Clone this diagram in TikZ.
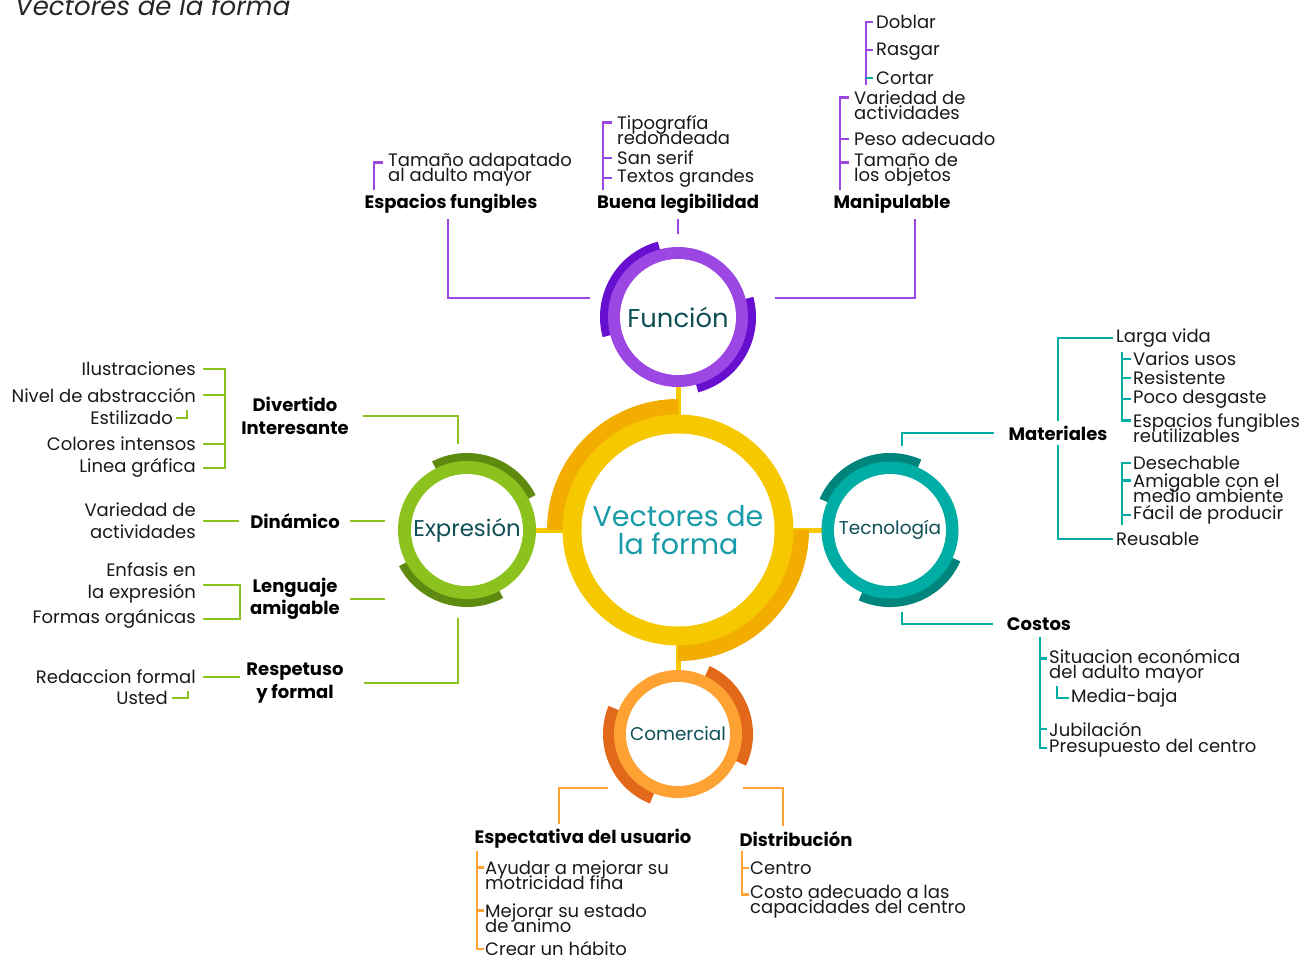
\documentclass[tikz,border=0pt]{standalone}
\usepackage{fontspec}
\setmainfont{Poppins}
\usetikzlibrary{positioning, calc}

\definecolor{hubR}{HTML}{F6C800}
\definecolor{hubD}{HTML}{F2AD00}
\definecolor{funR}{HTML}{9C46E4}
\definecolor{funD}{HTML}{6810CF}
\definecolor{expR}{HTML}{8CC21E}
\definecolor{expD}{HTML}{5F8A10}
\definecolor{tecR}{HTML}{00ADA5}
\definecolor{tecD}{HTML}{00857C}
\definecolor{comR}{HTML}{FFA234}
\definecolor{comD}{HTML}{E3691A}
\definecolor{hubtxt}{HTML}{1A9BA8}
\definecolor{ringtxt}{HTML}{0E4F55}

\newcommand{\leaffont}{\fontsize{18}{15}\selectfont\lineskiplimit=-30pt\relax}
\newcommand{\wideleaffont}{\fontsize{18}{22}\selectfont\lineskiplimit=-30pt\relax}

\begin{document}
\begin{tikzpicture}[
  x=1pt, y=1pt,
  line join=miter,
  leaf/.style={anchor=west, inner sep=0pt, font=\leaffont, align=left, text=black!90},
  leafr/.style={leaf, anchor=east, align=right, font=\wideleaffont},
  branch/.style={inner sep=0pt, font=\fontsize{18}{22.5}\selectfont\bfseries, align=center},
  ringlabel/.style={inner sep=0pt, text=ringtxt},
  spoke/.style={draw=hubR, line width=5pt},
  funline/.style={draw=funR, line width=2.6pt},
  expline/.style={draw=expR, line width=2.6pt},
  tecline/.style={draw=tecR, line width=2.6pt},
  comline/.style={draw=comR, line width=2.6pt}
]
\useasboundingbox (0,0) rectangle (1303,-956);

\node[anchor=base west, inner sep=0pt, font=\fontsize{26}{26}\selectfont\itshape, text=black!85] (title) at (15,-15) {Vectores de la forma};

% ================= HUB AND RINGS =================
\coordinate (hubC) at (678,-530);
\coordinate (funC) at (678,-317);
\coordinate (expC) at (467,-530);
\coordinate (tecC) at (890,-530);
\coordinate (comC) at (678,-734);

\draw[spoke] (funC) -- (comC);
\draw[spoke] (expC) -- (tecC);

\foreach \c/\ri/\ro/\rd/\a/\b/\col in {
  hubC/96.5/115.5/131/90/-90/hub,
  funC/58/70/78/105/-75/fun,
  expC/56/69/77/27/208/exp,
  tecC/56/68.5/77/66/-114/tec,
  comC/52/64/75/-25/158/com}
{
  \fill[fill=\col D] (\c) -- ++(\a:\rd) arc[start angle=\a, delta angle=90, radius=\rd] -- cycle;
  \fill[fill=\col D] (\c) -- ++(\b:\rd) arc[start angle=\b, delta angle=90, radius=\rd] -- cycle;
  \fill[fill=\col R] (\c) circle[radius=\ro];
  \fill[white] (\c) circle[radius=\ri];
}

\node[ringlabel, font=\fontsize{28.5}{28}\selectfont, text=hubtxt, align=center] (hub) at (hubC) {Vectores de\\la forma};
\node[ringlabel, font=\fontsize{25.8}{25}\selectfont] (fun) at (funC) {Función};
\node[ringlabel, font=\fontsize{22.8}{22}\selectfont] (expr) at (expC) {Expresión};
\node[ringlabel, font=\fontsize{18.5}{18}\selectfont] (tecn) at (tecC) {Tecnología};
\node[ringlabel, font=\fontsize{18.4}{18}\selectfont] (come) at (comC) {Comercial};

% ================= FUNCION =================
\node[branch] (espf) at (451,-204) {Espacios fungibles};
\node[branch] (legib) at (678,-204) {Buena legibilidad};
\node[branch] (manip) at (892,-204) {Manipulable};
\coordinate (funL) at (590,-298);
\coordinate (funT) at (678,-234);
\coordinate (funR) at (775,-298);
\draw[funline] (funL) -| ([xshift=-3pt,yshift=-5pt]espf.south);
\draw[funline] ([yshift=-5pt]legib.south) -- (funT);
\draw[funline] (funR) -| ([xshift=23pt,yshift=-5pt]manip.south);

% ===== Espacios fungibles =====
\node[leaf] (tamad) at (388,-170) {Tamaño adapatado\\al adulto mayor};
\coordinate (espfB) at (374,-190);
\draw[funline] (espfB) |- ([xshift=-5pt,yshift=7.5pt]tamad.west);

% ===== Buena legibilidad =====
\node[leaf] (tipo) at (617,-130) {Tipografía\\redondeada};
\node[leaf] (sans) at (617,-158) {San serif};
\node[leaf] (textos) at (617,-178) {Textos grandes};
\coordinate (legibB) at (603,-190);
\draw[funline] (legibB) |- ([xshift=-5pt,yshift=7.5pt]tipo.west);
\foreach \n in {sans,textos}
  \draw[funline] ([xshift=-5pt]\n.west) -| (legibB);

% ===== Manipulable =====
\node[leaf] (varact) at (854,-105) {Variedad de\\actividades};
\node[leaf] (peso) at (854,-139) {Peso adecuado};
\node[leaf] (tamobj) at (854,-170) {Tamaño de\\los objetos};
\coordinate (manipB) at (840,-190);
\draw[funline] (manipB) |- ([xshift=-5pt,yshift=7.5pt]varact.west);
\draw[funline] ([xshift=-5pt]peso.west) -| (manipB);
\draw[funline] ([xshift=-5pt,yshift=7.5pt]tamobj.west) -| (manipB);

\node[leaf] (doblar) at (876,-22) {Doblar};
\node[leaf] (rasgar) at (876,-52) {Rasgar};
\node[leaf] (cortar) at (876,-78) {Cortar};
\coordinate (toolB) at (866,-85);
\draw[funline] (toolB) |- ([xshift=-3pt]doblar.west);
\draw[funline] ([xshift=-3pt,yshift=2pt]rasgar.west) -| (toolB);
\draw[tecline] ([xshift=-3pt]cortar.west) -- (cortar.west -| toolB);

% ================= EXPRESION =================
\node[branch] (divint) at (295,-416) {Divertido\\Interesante};
\node[branch] (dinam) at (295,-521) {Dinámico};
\node[branch] (lengu) at (295,-599) {Lenguaje\\amigable};
\node[branch] (respe) at (295,-683) {Respetuso\\y formal};
\coordinate (expT) at (458,-444);
\coordinate (expL1) at (385,-521);
\coordinate (expL2) at (385,-599);
\coordinate (expB) at (458,-618);
\draw[expline] ([xshift=14pt]divint.east) -| (expT);
\draw[expline] ([xshift=10pt]dinam.east) -- (expL1);
\draw[expline] ([xshift=10pt]lengu.east) -- (expL2);
\draw[expline] (expB) |- ([xshift=20pt]respe.east);

% ===== Divertido =====
\node[leafr] (ilus) at (196,-369) {Ilustraciones};
\node[leafr] (nivel) at (196,-395) {Nivel de abstracción};
\node[leafr] (estil) at (173,-418) {Estilizado};
\node[leafr] (colint) at (196,-444) {Colores intensos};
\node[leafr] (linea) at (196,-468) {Linea gráfica};
\coordinate (divB) at (225,-420);
\draw[expline] ([xshift=7pt]ilus.east) -| (divB) |- ([xshift=7pt]linea.east);
\foreach \n in {nivel,colint}
  \draw[expline] ([xshift=7pt]\n.east) -| (divB);
\draw[expline] ([xshift=3pt]estil.east) -| ([xshift=14pt,yshift=8pt]estil.east);

% ===== Dinamico =====
\node[leafr] (varact2) at (196,-521) {Variedad de\\actividades};
\draw[expline] ([xshift=7pt]varact2.east) -- ([xshift=-11pt]dinam.west);

% ===== Lenguaje =====
\node[leafr] (enfasis) at (196,-583) {Enfasis en\\la expresión};
\node[leafr] (formas) at (196,-619) {Formas orgánicas};
\coordinate (lenguB) at (240,-600);
\draw[expline] ([xshift=7pt,yshift=-2pt]enfasis.east) -| (lenguB) |- ([xshift=7pt]formas.east);

% ===== Respetuso =====
\node[leafr] (redac) at (196,-677) {Redaccion formal};
\node[leafr] (usted) at (168,-698) {Usted};
\draw[expline] ([xshift=7pt]redac.east) -- ([xshift=44pt]redac.east);
\draw[expline] ([xshift=4pt]usted.east) -| ([xshift=20pt,yshift=7pt]usted.east);

% ================= TECNOLOGIA =================
\node[branch] (mater) at (1058,-433) {Materiales};
\node[branch] (costos) at (1039,-624) {Costos};
\coordinate (tecT) at (902,-446);
\coordinate (tecB) at (902,-612);
\draw[tecline] (tecT) |- ([xshift=-14pt]mater.west);
\draw[tecline] (tecB) |- ([xshift=-14pt]costos.west);

% ===== Materiales =====
\node[leaf] (larga) at (1116,-338) {Larga vida};
\node[leaf] (reusa) at (1116,-539) {Reusable};
\draw[tecline] ([yshift=5pt]mater.north) |- ([xshift=-3pt]larga.west);
\draw[tecline] ([yshift=-5pt]mater.south) |- ([xshift=-3pt]reusa.west);

\node[leaf] (varios) at (1133,-359) {Varios usos};
\node[leaf] (resist) at (1133,-378) {Resistente};
\node[leaf] (poco) at (1133,-399) {Poco desgaste};
\node[leaf] (espreu) at (1133,-428) {Espacios fungibles\\reutilizables};
\coordinate (matB1) at (1122,-352);
\draw[tecline] (matB1) |- ([xshift=-2pt,yshift=7.5pt]espreu.west);
\foreach \n in {varios,resist,poco}
  \draw[tecline] ([xshift=-2pt]\n.west) -| (matB1);

\node[leaf] (desech) at (1133,-463) {Desechable};
\node[leaf] (amig) at (1133,-488) {Amigable con el\\medio ambiente};
\node[leaf] (facil) at (1133,-515) {Fácil de producir};
\coordinate (matB2) at (1122,-525);
\draw[tecline] (matB2) |- ([xshift=-2pt]desech.west);
\draw[tecline] ([xshift=-2pt,yshift=7.5pt]amig.west) -| (matB2);
\draw[tecline] ([xshift=-2pt]facil.west) -| (matB2);

% ===== Costos =====
\node[leaf] (situ) at (1049,-666) {Situacion económica\\del adulto mayor};
\node[leaf] (media) at (1071,-698) {Media-baja};
\node[leaf] (jubil) at (1049,-729) {Jubilación};
\node[leaf] (presu) at (1049,-748) {Presupuesto del centro};
\coordinate (cosB) at (1040,-637);
\draw[tecline] (cosB) |- ([xshift=-2pt]presu.west);
\draw[tecline] ([xshift=-2pt,yshift=7.5pt]situ.west) -| (cosB);
\draw[tecline] ([xshift=-2pt]jubil.west) -| (cosB);
\draw[tecline] ([xshift=8pt,yshift=-3pt]situ.south west) |- ([xshift=-2pt]media.west);

% ================= COMERCIAL =================
\node[branch] (expect) at (583,-839) {Espectativa del usuario};
\node[branch] (distr) at (796,-839) {Distribución};
\coordinate (comL) at (608,-788);
\coordinate (comR) at (743,-788);
\draw[comline] (comL) -| ([xshift=-24pt,yshift=5pt]expect.north);
\draw[comline] (comR) -| ([xshift=-13pt,yshift=5pt]distr.north);

% ===== Espectativa =====
\node[leaf] (ayudar) at (485,-875) {Ayudar a mejorar su\\motricidad fina};
\node[leaf] (mejorar) at (485,-918) {Mejorar su estado\\de animo};
\node[leaf] (crear) at (485,-949) {Crear un hábito};
\coordinate (expectB) at (477,-851);
\draw[comline] (expectB) |- ([xshift=-1pt]crear.west);
\foreach \n in {ayudar,mejorar}
  \draw[comline] ([xshift=-1pt,yshift=7.5pt]\n.west) -| (expectB);

% ===== Distribucion =====
\node[leaf] (centro) at (750,-868) {Centro};
\node[leaf] (costoad) at (750,-902) {Costo adecuado a las\\capacidades del centro};
\coordinate (distrB) at (742,-851);
\draw[comline] (distrB) |- ([xshift=-1pt,yshift=7.5pt]costoad.west);
\draw[comline] ([xshift=-1pt]centro.west) -| (distrB);
\end{tikzpicture}
\end{document}
